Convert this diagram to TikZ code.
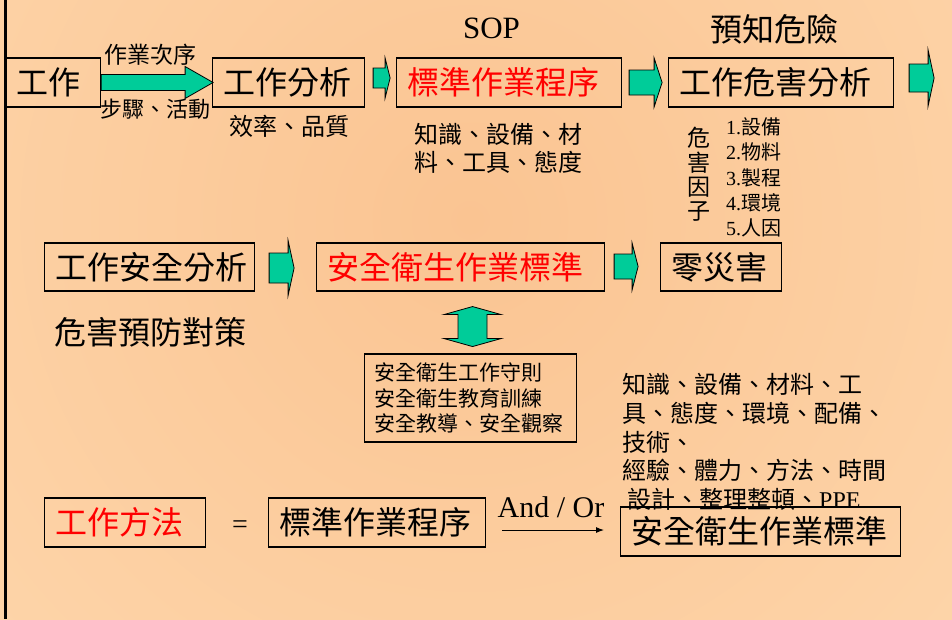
\documentclass[tikz,border=0pt]{standalone}
\usepackage{fontspec}
\setmainfont{Liberation Serif}
\newfontfamily\cjk{Noto Sans CJK TC}
\usetikzlibrary{calc,arrows.meta}
\definecolor{bgin}{RGB}{250,196,146}
\definecolor{bgout}{RGB}{255,219,178}
\definecolor{arrowgreen}{RGB}{0,204,153}
\definecolor{redtxt}{RGB}{255,0,0}
\newcommand\lat[1]{{\rmfamily #1}}
\newcommand\fs[2]{\fontsize{#1}{#2}\selectfont}
\newcommand\rblk[5]{\draw[blk] #1 ++(0,#3) -- ++(#2,0) -- ++(0,#4-#3) -- ++(#5,-#4) -- ++(-#5,-#4) -- ++(0,#4-#3) -- ++(-#2,0) -- cycle;}
\begin{document}
\begin{tikzpicture}[x=1pt,y=-1pt,
  box/.style={draw=black, line width=1.1pt, anchor=west, inner xsep=11pt, inner ysep=0pt, align=left, minimum height=49pt, font=\fs{32}{38}\cjk},
  txt/.style={inner sep=0pt, font=\fs{32}{38}\cjk},
  blk/.style={draw=black, line width=0.8pt, fill=arrowgreen, line join=miter},
  redt/.style={text=redtxt}]
\useasboundingbox (0,0) rectangle (952,619);
\fill[bgout] (0,0) rectangle (952,619);
\begin{scope}
\clip (0,0) rectangle (952,619);
\shade[inner color=bgin, outer color=bgout] (470,220) circle (900);
\end{scope}
\draw[line width=3pt] (5.5,0) -- (5.5,619);

% row 1
\node[box, text width=73pt] (w1) at (5,82.5) {工作};
\node[box, text width=130pt] (w2) at (212,82.5) {工作分析};
\node[box, text width=203pt, redt] (w3) at (396,82.5) {標準作業程序};
\node[box, text width=203pt] (w4) at (668,82.5) {工作危害分析};

\node[txt, anchor=base, font=\fs{31}{36}\rmfamily] (sop) at (491.5,38) {SOP};
\node[txt] (yuzhi) at (774,29) {預知危險};
\node[txt, font=\fs{23}{28}\cjk] (cixu) at (150,55) {作業次序};
\node[txt, font=\fs{22}{28}\cjk] (buzhou) at (155,109) {步驟、活動};
\node[txt, font=\fs{24}{28}\cjk] (xiaolv) at (289,126) {效率、品質};
\node[txt, font=\fs{24}{28.5}\cjk, align=left, anchor=west] (zhishi) at (414,148.5) {知識、設備、材\\料、工具、態度};
\node[txt, font=\fs{23}{24.3}\cjk, align=center] (yinzi) at (699,174.5) {危\\害\\因\\子};
\node[txt, font=\fs{20}{25.3}\cjk, align=left, anchor=west] (list) at (726,177.5) {\lat{1.}設備\\\lat{2.}物料\\\lat{3.}製程\\\lat{4.}環境\\\lat{5.}人因};

\rblk{(w1.east)}{84}{8}{16}{28}
\rblk{($(w2.east)+(8,-4.5)$)}{12}{10}{20}{5}
\rblk{($(w3.east)+(7,0)$)}{25}{12.5}{24.5}{8}
\rblk{($(w4.east)+(15,-4.5)$)}{19}{14}{28}{6}

% row 2
\node[box, text width=188pt, minimum height=48pt] (r1) at (44,267) {工作安全分析};
\node[box, text width=266pt, minimum height=48pt, redt] (r2) at (316,267) {安全衛生作業標準};
\node[box, text width=99pt, minimum height=48pt] (r3) at (660,267) {零災害};
\rblk{($(r1.east)+(14,1)$)}{19}{15}{27.5}{6}
\rblk{($(r2.east)+(9,-0.5)$)}{18}{12.5}{23.5}{6}

\node[txt] (yufang) at (150,332) {危害預防對策};

\coordinate (dbl) at ($(r2.south)+(12,15)$);
\draw[blk] (dbl) -- ++(28.5,8) -- ++(-14,0) -- ++(0,24) -- ++(14,0) -- ++(-28.5,8) -- ++(-28.5,-8) -- ++(14,0) -- ++(0,-24) -- ++(-14,0) -- cycle;

\node[box, text width=192pt, minimum height=88pt, inner xsep=10pt, font=\fs{21}{25.5}\cjk] (m1) at (364,398) {安全衛生工作守則\\安全衛生教育訓練\\安全教導、安全觀察};

\node[txt, font=\fs{24}{28.7}\cjk, align=left, anchor=west] (need) at (622,442) {知識、設備、材料、工\\具、態度、環境、配備、\\技術、\\經驗、體力、方法、時間\\\hspace*{5pt}設計、整理整頓、\lat{PPE}};

% row 3
\node[box, text width=139pt, redt] (b1) at (44,522.5) {工作方法};
\node[txt, font=\fs{28}{32}\rmfamily] (eq) at (240,527) {=};
\node[box, text width=195pt] (b2) at (268,522.5) {標準作業程序};
\node[box, text width=258pt] (b3) at (620,531.5) {安全衛生作業標準};
\node[txt, anchor=base, font=\fs{30}{34}\rmfamily] (andor) at (551,517) {And / Or};
\draw[line width=1pt, -{Latex[length=8pt,width=6pt]}] ($(b2.east)+(16,7.5)$) -- ($(b3.west)+(-16,-1.5)$);
\end{tikzpicture}
\end{document}
